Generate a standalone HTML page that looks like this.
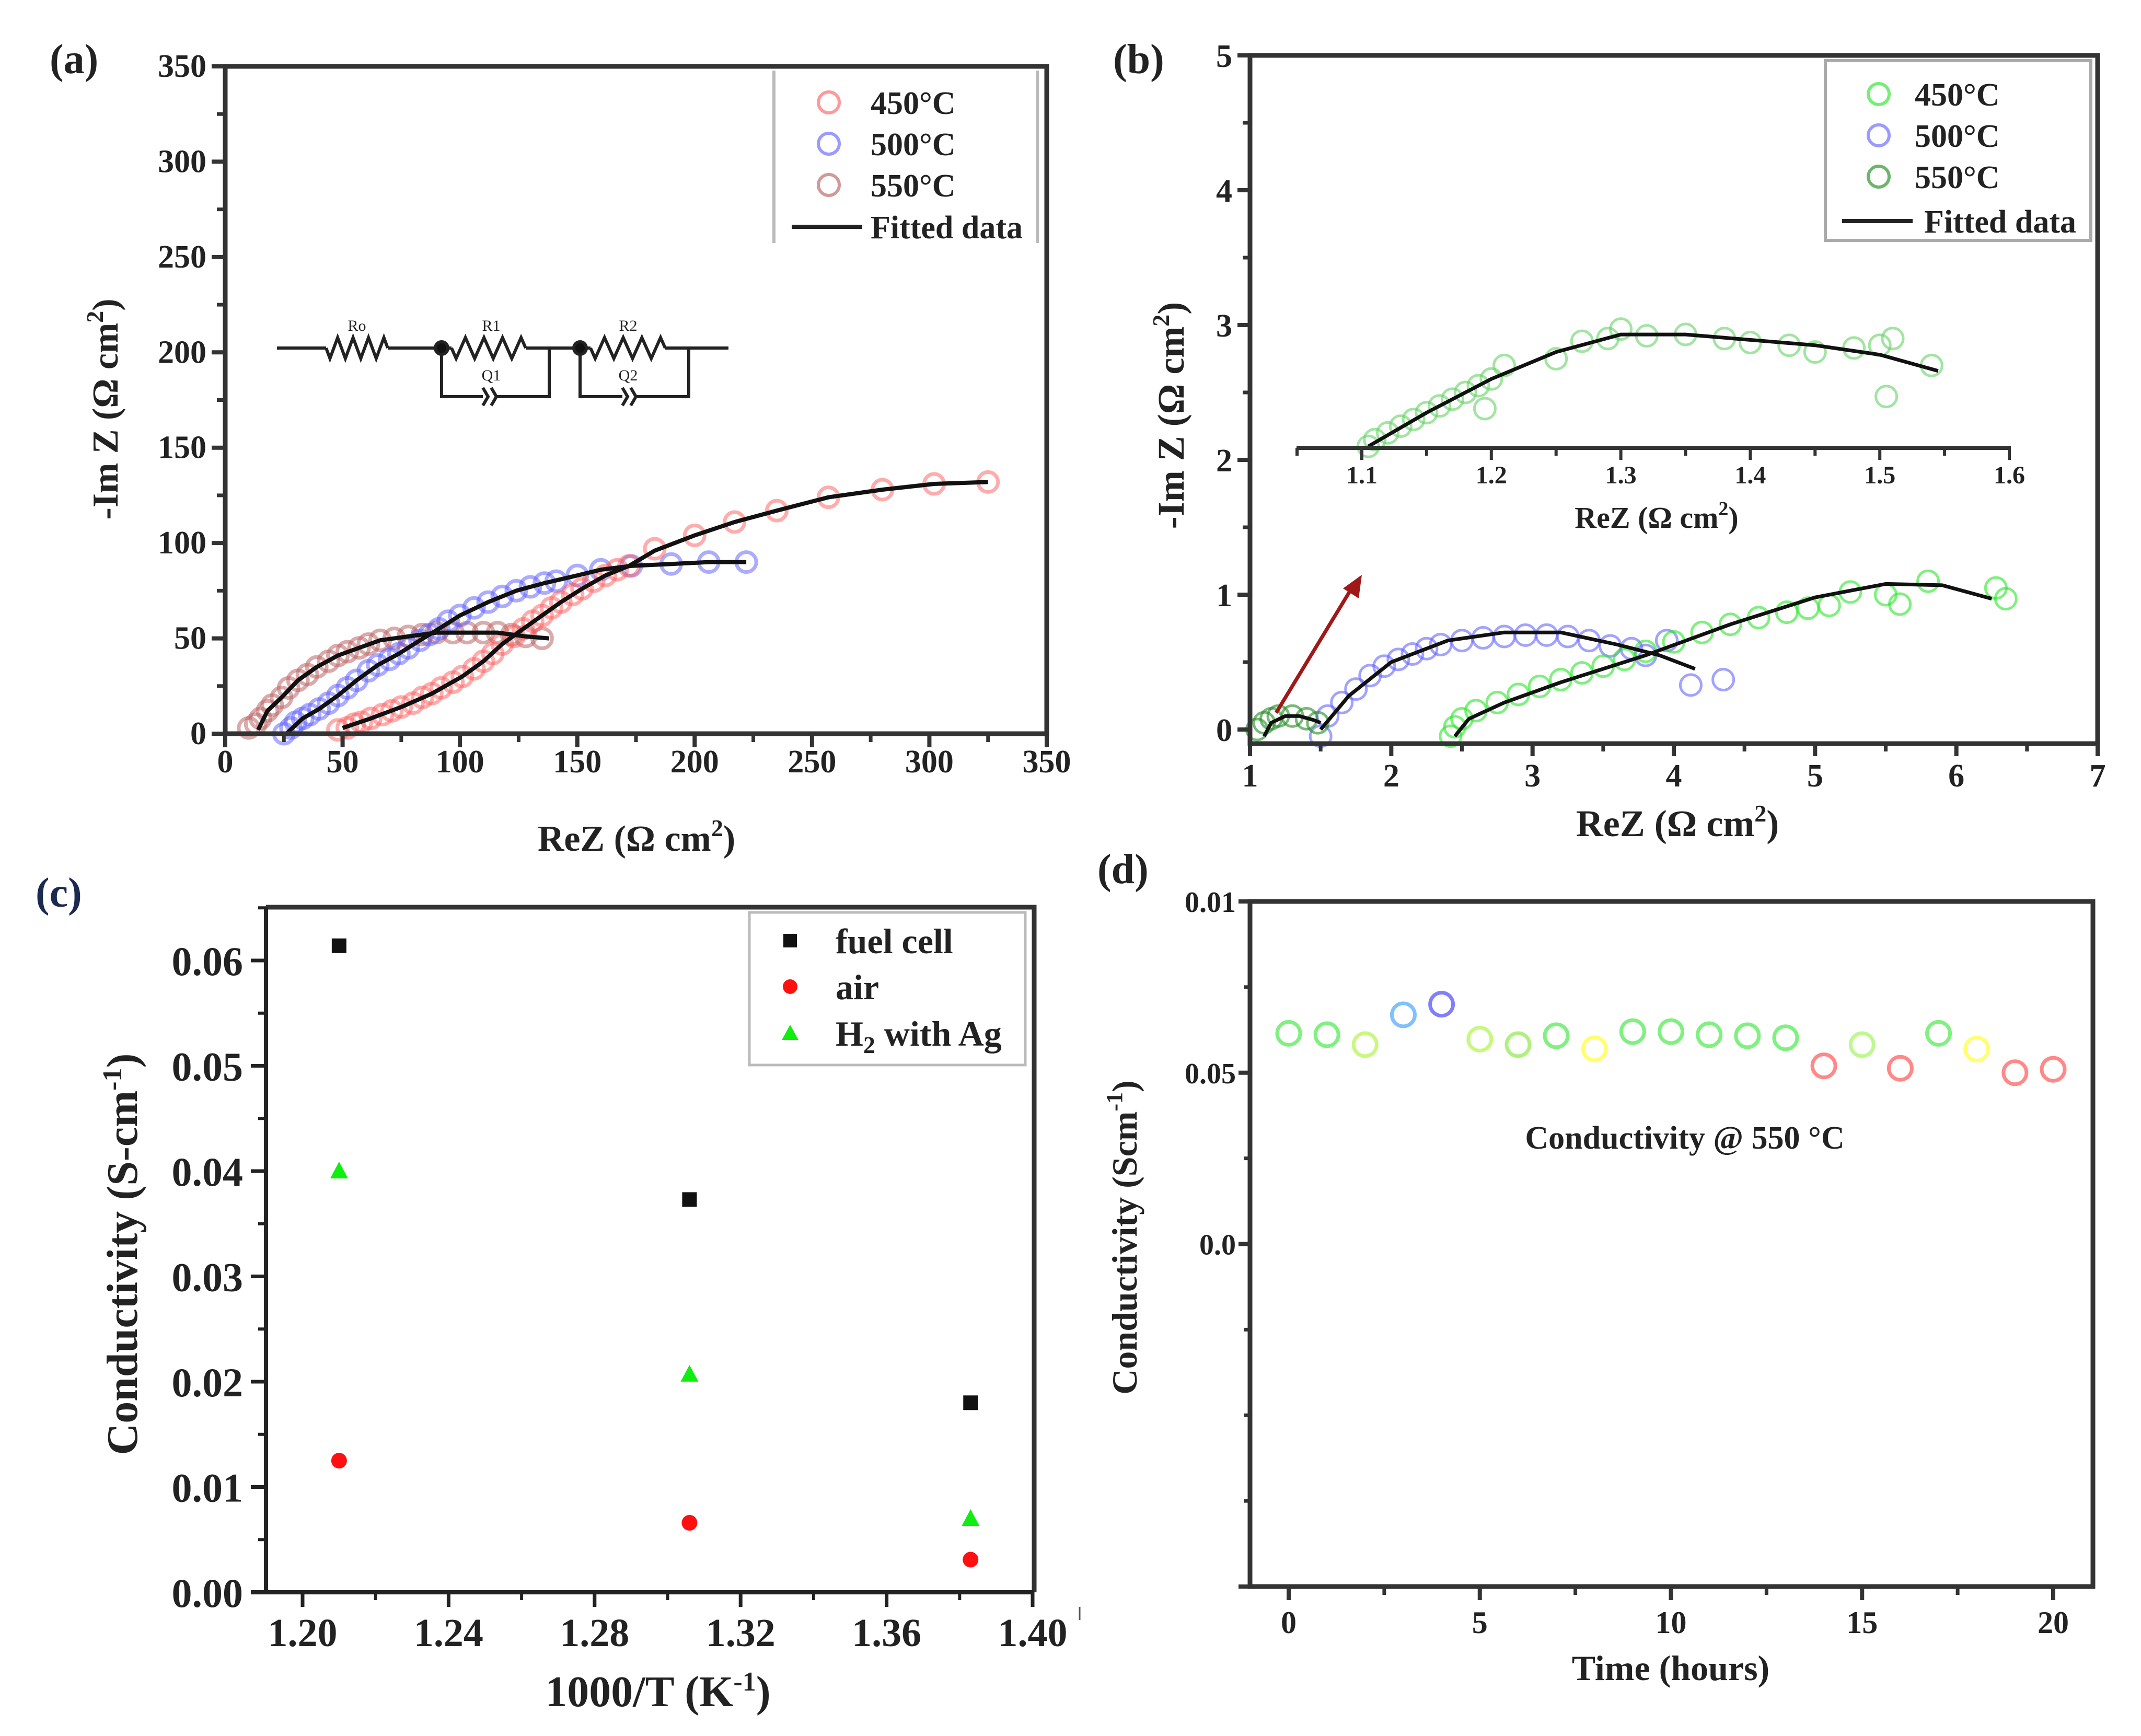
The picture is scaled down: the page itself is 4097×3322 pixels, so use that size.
<!DOCTYPE html>
<html><head><meta charset="utf-8"><style>
html,body{margin:0;padding:0;background:#fff}
svg{display:block}
text{font-family:"Liberation Serif",serif;font-weight:bold;fill:#222}
</style></head><body>
<svg id="fig" width="4097" height="3322" viewBox="0 0 4097 3322" xmlns="http://www.w3.org/2000/svg">
<rect width="4097" height="3322" fill="#fff"/>
<g id="pa"></g>
<g id="pb"></g>
<g id="pc"></g>
<g id="pd"></g>
</svg>
<script>
// ---------- Panel (a) data ----------
const aX450=[48,52,55,58,62,67,71,75,80,84,88,92,97,101,106,110,114,118,123,127,131,135,139,143,148,152,157,162,167,172,183,200,217,235,257,280,302,325];
const aY450=[2,3,5,6,8,10,12,14,16,19,21,24,27,30,34,38,42,47,51,55,59,62,66,69,73,76,80,83,86,88,97,104,111,117,124,128,131,132];
const aX500=[25,28,30,33,36,40,44,48,52,56,61,65,70,74,78,83,87,91,95,100,106,112,118,124,130,136,141,150,160,173,190,206,222];
const aY500=[0,3,6,8,10,13,16,20,24,28,33,36,39,42,45,49,52,55,59,62,66,69,72,75,77,79,80,83,86,88,89,90,90];
const aX550=[10,13,15,18,20,24,27,31,35,39,44,48,52,57,61,66,72,78,84,90,97,103,110,116,122,128,135];
const aY550=[3,5,8,12,15,19,24,28,31,35,38,41,43,45,47,49,50,51,52,53,53,53,53,53,52,51,50];
const aFitX450=[50,62,75,88,101,110,118,127,135,143,152,162,172,183,200,217,235,257,280,302,325];
const aFitY450=[3,8,14,21,30,38,47,55,62,69,76,83,88,96,104,111,117,124,128,131,132];
const aFitX500=[26,33,40,48,56,65,74,83,91,100,112,124,136,150,160,173,190,206,222];
const aFitY500=[0,8,13,20,28,36,42,49,55,62,69,75,79,83,86,88,89,90,90];
const aFitX550=[14,18,24,31,39,48,57,66,78,90,103,116,128,138];
const aFitY550=[2,12,19,28,35,41,45,49,51,53,53,53,51,50];
const aXTicks=[0,50,100,150,200,250,300,350];
const aYTicks=[0,50,100,150,200,250,300,350];
// ---------- Panel (b) data ----------
const bX500=[1.5,1.55,1.65,1.75,1.85,1.95,2.05,2.15,2.25,2.35,2.5,2.65,2.8,2.95,3.1,3.25,3.4,3.55,3.7,3.8,3.95,4.12,4.35];
const bY500=[-0.05,0.1,0.2,0.3,0.4,0.47,0.52,0.56,0.6,0.63,0.66,0.68,0.69,0.7,0.7,0.69,0.66,0.62,0.6,0.55,0.66,0.33,0.37];
const bX450=[2.42,2.45,2.5,2.6,2.75,2.9,3.05,3.2,3.35,3.5,3.65,3.8,4.0,4.2,4.4,4.6,4.8,4.95,5.1,5.25,5.5,5.6,5.8,6.28,6.35];
const bY450=[-0.05,0.02,0.08,0.14,0.2,0.26,0.32,0.37,0.42,0.47,0.52,0.58,0.65,0.72,0.78,0.83,0.87,0.9,0.92,1.02,1.0,0.93,1.1,1.05,0.97];
const bX550=[1.05,1.1,1.15,1.2,1.3,1.4,1.48];
const bY550=[0,0.05,0.08,0.1,0.1,0.08,0.05];
const bFitX500=[1.5,1.7,2.0,2.4,2.8,3.2,3.6,3.9,4.15];
const bFitY500=[0,0.25,0.5,0.66,0.72,0.72,0.63,0.55,0.45];
const bFitX450=[2.45,2.55,2.8,3.2,3.8,4.4,5.0,5.5,5.9,6.25];
const bFitY450=[-0.05,0.08,0.2,0.35,0.55,0.78,0.98,1.08,1.07,0.97];
const bFitX550=[1.1,1.15,1.25,1.35,1.45,1.5];
const bFitY550=[-0.05,0.05,0.1,0.1,0.07,0.05];
const bInX=[1.105,1.11,1.12,1.13,1.14,1.15,1.16,1.17,1.18,1.19,1.195,1.2,1.21,1.25,1.27,1.29,1.3,1.32,1.35,1.38,1.4,1.43,1.45,1.48,1.5,1.51,1.505,1.54];
const bInY=[2.1,2.15,2.2,2.25,2.3,2.35,2.4,2.45,2.5,2.55,2.38,2.6,2.7,2.75,2.88,2.9,2.97,2.92,2.93,2.9,2.87,2.85,2.8,2.83,2.85,2.9,2.47,2.7];
const bInFitX=[1.105,1.15,1.2,1.25,1.3,1.35,1.45,1.5,1.545];
const bInFitY=[2.1,2.35,2.6,2.8,2.93,2.93,2.85,2.78,2.66];
const bXTicks=[1,2,3,4,5,6,7];
const bYTicks=[0,1,2,3,4,5];
const bInTicks=[1.1,1.2,1.3,1.4,1.5,1.6];
// ---------- Panel (c) data ----------
const cX=[1.21,1.306,1.383];
const cFuel=[0.0614,0.0373,0.018];
const cAir=[0.0125,0.0066,0.0031];
const cH2=[0.040,0.0207,0.0070];
const cXTicks=[1.20,1.24,1.28,1.32,1.36,1.40];
const cYTicks=[0,0.01,0.02,0.03,0.04,0.05,0.06];
// ---------- Panel (d) data ----------
const dT=[0,1,2,3,4,5,6,7,8,9,10,11,12,13,14,15,16,17,18,19,20];
const dV=[0.0615,0.0611,0.0582,0.0669,0.070,0.0598,0.0582,0.0608,0.0570,0.0620,0.0620,0.0611,0.0608,0.0602,0.0520,0.0582,0.0513,0.0615,0.0569,0.0500,0.0510];
const dColor=['#80f080','#80f080','#c8f880','#80c0ff','#8080ff','#c8f880','#b0f080','#80f080','#ffff70','#80f080','#80f080','#80f080','#80f080','#80f080','#ff8888','#c0f890','#ff8888','#80f080','#ffff70','#ff8888','#ff8888'];
const dYTicks=[0.1,0.05,0];
const dYLabels=['0.01','0.05','0.0'];
const dXTicks=[0,5,10,15,20];

const NS='http://www.w3.org/2000/svg';
function mk(parent,tag,attrs,txt){const e=document.createElementNS(NS,tag);for(const k in attrs)e.setAttribute(k,attrs[k]);if(txt!==undefined)e.textContent=txt;parent.appendChild(e);return e;}
function lin(d0,d1,r0,r1){return v=>r0+(v-d0)/(d1-d0)*(r1-r0);}
function pathD(xs,ys,sx,sy){let s='';for(let i=0;i<xs.length;i++){s+=(i?'L':'M')+sx(xs[i]).toFixed(1)+' '+sy(ys[i]).toFixed(1);}return s;}

// ===== Panel A =====
(function(){
const g=document.getElementById('pa');
const sx=lin(0,350,431,2003), sy=lin(0,350,1404,127);
let t=mk(g,'text',{x:95,y:140,'font-size':80},'(a)');

const series=[[aX550,aY550,'rgba(190,100,100,0.55)','series-550'],[aX500,aY500,'rgba(90,90,255,0.5)','series-500'],[aX450,aY450,'rgba(255,90,90,0.5)','series-450']];
series.forEach(s=>{const gg=mk(g,'g',{});
 for(let i=0;i<s[0].length;i++){const c=mk(gg,'circle',{cx:sx(s[0][i]),cy:sy(s[1][i]),r:19,fill:'none',stroke:s[2],'stroke-width':7});
 }});
[[aFitX450,aFitY450],[aFitX500,aFitY500],[aFitX550,aFitY550]].forEach((f,i)=>{const p=mk(g,'path',{d:pathD(f[0],f[1],sx,sy),fill:'none',stroke:'#111','stroke-width':8,'stroke-linejoin':'round'});
 });
const ax=mk(g,'rect',{x:431,y:127,width:1572,height:1277,fill:'none',stroke:'#333','stroke-width':9});

aXTicks.forEach(v=>{mk(g,'line',{x1:sx(v),x2:sx(v),y1:1404,y2:1430,stroke:'#333','stroke-width':8});
 const tl=mk(g,'text',{x:sx(v),y:1478,'font-size':62,'text-anchor':'middle'},String(v));
 if(v<350)mk(g,'line',{x1:sx(v+25),x2:sx(v+25),y1:1404,y2:1420,stroke:'#333','stroke-width':7});});
aYTicks.forEach(v=>{mk(g,'line',{x1:405,x2:431,y1:sy(v),y2:sy(v),stroke:'#333','stroke-width':8});
 const tl=mk(g,'text',{x:395,y:sy(v)+20,'font-size':62,'text-anchor':'end'},String(v));
 if(v<350)mk(g,'line',{x1:415,x2:431,y1:sy(v+25),y2:sy(v+25),stroke:'#333','stroke-width':7});});
t=mk(g,'text',{x:1218,y:1628,'font-size':70,'text-anchor':'middle'});t.innerHTML='ReZ (Ω cm<tspan dy="-28" font-size="46">2</tspan><tspan dy="28">)</tspan>';

t=mk(g,'text',{x:0,y:0,'font-size':70,'text-anchor':'middle',transform:'translate(225,783) rotate(-90)'});t.innerHTML='-Im Z (Ω cm<tspan dy="-28" font-size="46">2</tspan><tspan dy="28">)</tspan>';

const lg=mk(g,'g',{});
mk(lg,'line',{x1:1481,x2:1481,y1:135,y2:465,stroke:'#bbb','stroke-width':6});
mk(lg,'line',{x1:1985,x2:1985,y1:135,y2:465,stroke:'#bbb','stroke-width':6});
[['450°C','rgba(255,110,110,0.7)',196],['500°C','rgba(100,100,255,0.65)',275],['550°C','rgba(190,110,110,0.7)',354]].forEach(e=>{
 const c=mk(lg,'circle',{cx:1586,cy:e[2],r:20,fill:'none',stroke:e[1],'stroke-width':6});
 const tt=mk(lg,'text',{x:1666,y:e[2]+22,'font-size':62},e[0]);});
mk(lg,'line',{x1:1515,x2:1650,y1:434,y2:434,stroke:'#222','stroke-width':8});
t=mk(lg,'text',{x:1666,y:456,'font-size':62},'Fitted data');
const cg=mk(g,'g',{fill:'none',stroke:'#222','stroke-width':6});
const Y=666,zz=(x0,x1)=>{let s='M'+x0+' '+Y;const n=4,w=(x1-x0)/n;for(let i=0;i<n;i++){s+=' L'+(x0+w*i+w/4)+' '+(Y+20)+' L'+(x0+w*i+3*w/4)+' '+(Y-20);}return s+' L'+x1+' '+Y;};
mk(cg,'path',{d:'M530 666 L624 666'});
mk(cg,'path',{d:zz(624,742)});mk(cg,'path',{d:'M742 666 L864 666'});
mk(cg,'path',{d:zz(864,1006)});mk(cg,'path',{d:'M1006 666 L1130 666'});
mk(cg,'path',{d:zz(1130,1273)});mk(cg,'path',{d:'M1273 666 L1394 666'});
mk(cg,'path',{d:'M845 666 L845 759 L924 759 M948 759 L1051 759 L1051 666'});
mk(cg,'path',{d:'M924 742 L934 759 L924 776 M940 742 L950 759 L940 776'});
mk(cg,'path',{d:'M1110 666 L1110 759 L1191 759 M1215 759 L1318 759 L1318 666'});
mk(cg,'path',{d:'M1191 742 L1201 759 L1191 776 M1207 742 L1217 759 L1207 776'});
mk(cg,'circle',{cx:845,cy:666,r:12,fill:'#111'});mk(cg,'circle',{cx:1110,cy:666,r:12,fill:'#111'});
[['Ro',683,633],['R1',940,633],['R2',1202,633],['Q1',940,728],['Q2',1202,728]].forEach(l=>{const tt=mk(g,'text',{x:l[1],y:l[2],'font-size':30,'text-anchor':'middle','font-family':'Liberation Sans, sans-serif',style:'font-weight:normal'},l[0]);});
})();

// ===== Panel B =====
(function(){
const g=document.getElementById('pb');
const sx=lin(1,7,2392,4014), sy=lin(0,5,1396,106);
let t=mk(g,'text',{x:2130,y:140,'font-size':80},'(b)');
const sI=lin(1.1,1.6,2606,3845);
const pts=(xs,ys,col,name,fx)=>{const gg=mk(g,'g',{});
 for(let i=0;i<xs.length;i++){const c=mk(gg,'circle',{cx:fx(xs[i]),cy:sy(ys[i]),r:20,fill:'none',stroke:col,'stroke-width':5});}};
pts(bX500,bY500,'rgba(100,100,255,0.6)','series-500',sx);
pts(bX450,bY450,'rgba(40,230,40,0.6)','series-450',sx);
pts(bX550,bY550,'rgba(30,140,30,0.6)','series-550',sx);
pts(bInX,bInY,'rgba(100,210,100,0.6)','inset-series',sI);
[[bFitX500,bFitY500,sx],[bFitX450,bFitY450,sx],[bFitX550,bFitY550,sx],[bInFitX,bInFitY,sI]].forEach(f=>{const p=mk(g,'path',{d:pathD(f[0],f[1],f[2],sy),fill:'none',stroke:'#111','stroke-width':7,'stroke-linejoin':'round'});});
const ar=mk(g,'g',{});
mk(ar,'line',{x1:2442,y1:1364,x2:2590,y2:1120,stroke:'#a01818','stroke-width':7});
mk(ar,'polygon',{points:'2606,1100 2600,1145 2570,1126',fill:'#a01818'});
mk(g,'line',{x1:2481,x2:3848,y1:857,y2:857,stroke:'#333','stroke-width':8});
bInTicks.forEach(v=>{mk(g,'line',{x1:sI(v),x2:sI(v),y1:857,y2:880,stroke:'#333','stroke-width':6});
 const tl=mk(g,'text',{x:sI(v),y:925,'font-size':48,'text-anchor':'middle'},v.toFixed(1));
 if(v<1.6)mk(g,'line',{x1:sI(v+0.05),x2:sI(v+0.05),y1:857,y2:872,stroke:'#333','stroke-width':6});});
mk(g,'line',{x1:2482,x2:2482,y1:857,y2:872,stroke:'#333','stroke-width':6});
t=mk(g,'text',{x:3170,y:1010,'font-size':58,'text-anchor':'middle'});t.innerHTML='ReZ (Ω cm<tspan dy="-24" font-size="38">2</tspan><tspan dy="24">)</tspan>';
const fr=mk(g,'rect',{x:2392,y:106,width:1622,height:1317,fill:'none',stroke:'#333','stroke-width':9});
bXTicks.forEach(v=>{mk(g,'line',{x1:sx(v),x2:sx(v),y1:1423,y2:1447,stroke:'#333','stroke-width':8});
 const tl=mk(g,'text',{x:sx(v),y:1505,'font-size':62,'text-anchor':'middle'},String(v));
 if(v<7)mk(g,'line',{x1:sx(v+0.5),x2:sx(v+0.5),y1:1423,y2:1438,stroke:'#333','stroke-width':7});});
bYTicks.forEach(v=>{mk(g,'line',{x1:2368,x2:2392,y1:sy(v),y2:sy(v),stroke:'#333','stroke-width':8});
 const tl=mk(g,'text',{x:2358,y:sy(v)+22,'font-size':62,'text-anchor':'end'},String(v));
 if(v<5)mk(g,'line',{x1:2378,x2:2392,y1:sy(v+0.5),y2:sy(v+0.5),stroke:'#333','stroke-width':7});});
t=mk(g,'text',{x:3210,y:1600,'font-size':72,'text-anchor':'middle'});t.innerHTML='ReZ (Ω cm<tspan dy="-28" font-size="46">2</tspan><tspan dy="28">)</tspan>';
t=mk(g,'text',{x:0,y:0,'font-size':72,'text-anchor':'middle',transform:'translate(2265,795) rotate(-90)'});t.innerHTML='-Im Z (Ω cm<tspan dy="-28" font-size="46">2</tspan><tspan dy="28">)</tspan>';
const lg=mk(g,'g',{});
mk(lg,'rect',{x:3493,y:116,width:508,height:344,fill:'#fff',stroke:'#aaa','stroke-width':6});
[['450°C','rgba(40,230,40,0.65)',180],['500°C','rgba(100,100,255,0.65)',259],['550°C','rgba(30,140,30,0.65)',338]].forEach(e=>{
 const c=mk(lg,'circle',{cx:3595,cy:e[2],r:20,fill:'none',stroke:e[1],'stroke-width':6});
 const tt=mk(lg,'text',{x:3664,y:e[2]+22,'font-size':62},e[0]);});
mk(lg,'line',{x1:3525,x2:3660,y1:423,y2:423,stroke:'#222','stroke-width':8});
t=mk(lg,'text',{x:3682,y:445,'font-size':62},'Fitted data');
})();

// ===== Panel C =====
(function(){
const g=document.getElementById('pc');
const sx=lin(1.20,1.40,579,1976), sy=lin(0,0.06,3047,1838);
let t=mk(g,'text',{x:68,y:1735,'font-size':80,style:'fill:#1a2a50'},'(c)');
mk(g,'path',{d:'M509 1736 L1979 1736 L1979 3047',fill:'none',stroke:'#333','stroke-width':9});
mk(g,'line',{x1:509,x2:509,y1:1736,y2:3051,stroke:'#222','stroke-width':8});
mk(g,'line',{x1:480,x2:1979,y1:3047,y2:3047,stroke:'#222','stroke-width':8});
cXTicks.forEach(v=>{mk(g,'line',{x1:sx(v),x2:sx(v),y1:3047,y2:3075,stroke:'#222','stroke-width':7});
 const tl=mk(g,'text',{x:sx(v),y:3150,'font-size':76,'text-anchor':'middle'},v.toFixed(2));
 if(v<1.4)mk(g,'line',{x1:sx(v+0.02),x2:sx(v+0.02),y1:3047,y2:3062,stroke:'#222','stroke-width':6});});
cYTicks.forEach(v=>{mk(g,'line',{x1:480,x2:509,y1:sy(v),y2:sy(v),stroke:'#222','stroke-width':7});
 const tl=mk(g,'text',{x:465,y:sy(v)+28,'font-size':78,'text-anchor':'end'},v.toFixed(2));
 mk(g,'line',{x1:494,x2:509,y1:sy(v+0.005),y2:sy(v+0.005),stroke:'#222','stroke-width':6});});
mk(g,'line',{x1:2066,x2:2066,y1:3075,y2:3100,stroke:'#555','stroke-width':3});
t=mk(g,'text',{x:1259,y:3265,'font-size':84,'text-anchor':'middle'});t.innerHTML='1000/T (K<tspan dy="-30" font-size="52">-1</tspan><tspan dy="30">)</tspan>';
t=mk(g,'text',{x:0,y:0,'font-size':84,'text-anchor':'middle',transform:'translate(262,2400) rotate(-90)'});t.innerHTML='Conductivity (S-cm<tspan dy="-30" font-size="52">-1</tspan><tspan dy="30">)</tspan>';
const gF=mk(g,'g',{});
const gA=mk(g,'g',{});
const gH=mk(g,'g',{});
for(let i=0;i<cX.length;i++){const x=sx(cX[i]);
 let e=mk(gF,'rect',{x:x-14,y:sy(cFuel[i])-14,width:28,height:28,fill:'#111'});
 e=mk(gA,'circle',{cx:x,cy:sy(cAir[i]),r:15,fill:'#ff1010'});
 const y=sy(cH2[i]);e=mk(gH,'polygon',{points:`${x},${y-18} ${x+17},${y+14} ${x-17},${y+14}`,fill:'#10ee10'});}
const lg=mk(g,'g',{});
mk(lg,'rect',{x:1434,y:1746,width:528,height:292,fill:'#fff',stroke:'#bbb','stroke-width':5});
mk(lg,'rect',{x:1499,y:1787,width:26,height:26,fill:'#111'});
mk(lg,'circle',{cx:1512,cy:1888,r:14,fill:'#ff1010'});
mk(lg,'polygon',{points:'1512,1961 1528,1990 1496,1990',fill:'#10ee10'});
[['fuel cell',1824],['air',1912]].forEach(e=>{const tt=mk(lg,'text',{x:1599,y:e[1],'font-size':68},e[0]);});
t=mk(lg,'text',{x:1599,y:2001,'font-size':68});t.innerHTML='H<tspan dy="14" font-size="46">2</tspan><tspan dy="-14"> with Ag</tspan>';
})();

// ===== Panel D =====
(function(){
const g=document.getElementById('pd');
const sx=lin(0,20,2466,3929), sy=lin(-0.1,0.1,3036,1725);
let t=mk(g,'text',{x:2100,y:1690,'font-size':80},'(d)');
const fr=mk(g,'rect',{x:2392,y:1725,width:1613,height:1311,fill:'none',stroke:'#333','stroke-width':9});
mk(g,'line',{x1:2370,x2:2392,y1:3036,y2:3036,stroke:'#333','stroke-width':8});
dXTicks.forEach(v=>{mk(g,'line',{x1:sx(v),x2:sx(v),y1:3036,y2:3062,stroke:'#333','stroke-width':8});
 const tl=mk(g,'text',{x:sx(v),y:3125,'font-size':60,'text-anchor':'middle'},String(v));
 if(v<20)mk(g,'line',{x1:sx(v+2.5),x2:sx(v+2.5),y1:3036,y2:3052,stroke:'#333','stroke-width':7});});
dYTicks.forEach((v,i)=>{mk(g,'line',{x1:2370,x2:2392,y1:sy(v),y2:sy(v),stroke:'#333','stroke-width':8});
 const tl=mk(g,'text',{x:2365,y:sy(v)+20,'font-size':56,'text-anchor':'end'},dYLabels[i]);});
[0.075,0.025,-0.025,-0.05,-0.075].forEach(v=>mk(g,'line',{x1:2380,x2:2392,y1:sy(v),y2:sy(v),stroke:'#333','stroke-width':7}));
const gs=mk(g,'g',{});
for(let i=0;i<dT.length;i++){const c=mk(gs,'circle',{cx:sx(dT[i]),cy:sy(dV[i]),r:22,fill:'none',stroke:dColor[i],'stroke-width':7});}
t=mk(g,'text',{x:3224,y:2198,'font-size':62,'text-anchor':'middle'},'Conductivity @ 550 °C');
t=mk(g,'text',{x:3197,y:3215,'font-size':68,'text-anchor':'middle'},'Time (hours)');
t=mk(g,'text',{x:0,y:0,'font-size':68,'text-anchor':'middle',transform:'translate(2175,2368) rotate(-90)'});t.innerHTML='Conductivity (Scm<tspan dy="-28" font-size="44">-1</tspan><tspan dy="28">)</tspan>';
})();
</script>
</body></html>
